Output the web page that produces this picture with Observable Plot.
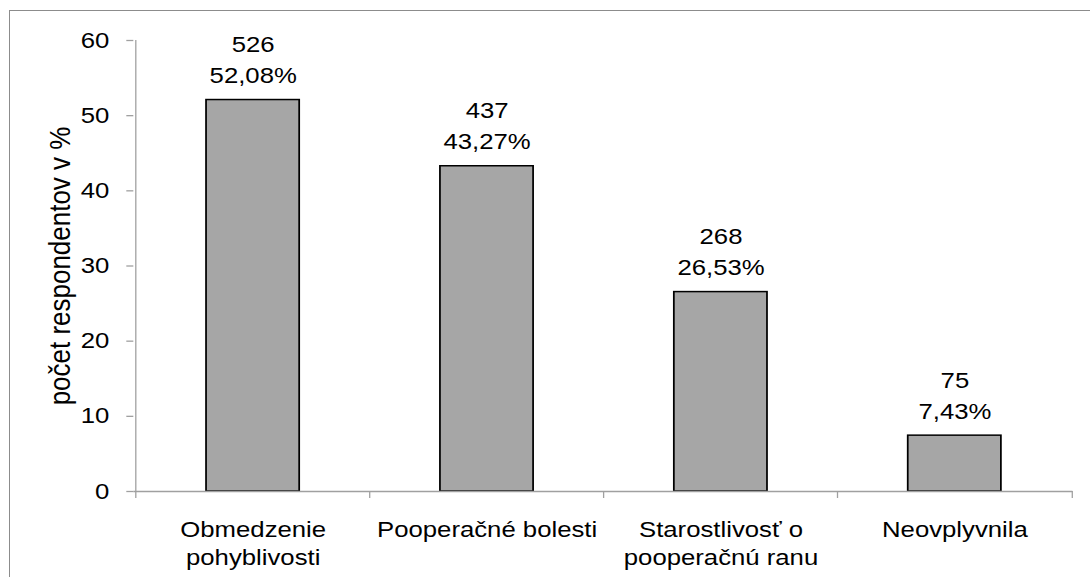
<!DOCTYPE html>
<html><head><meta charset="utf-8">
<script src="https://cdn.jsdelivr.net/npm/d3@7"></script>
<script src="https://cdn.jsdelivr.net/npm/@observablehq/plot@0.6"></script>
<style>
html,body{margin:0;padding:0;background:#fff;overflow:hidden}
#wrap{position:relative;width:1090px;height:577px;overflow:hidden;background:#fff}
#chart{position:absolute;left:0;top:0;transform-origin:0 0;transform:scaleX(1.1695)}
#chart svg{display:block}
#border{position:absolute;left:9px;top:10px;width:1200px;height:700px;border-left:1.5px solid #8c8c8c;border-top:1.5px solid #8c8c8c}
</style></head><body>
<div id="wrap"><div id="border"></div><div id="chart"></div></div>
<script>
const categories = ["Obmedzenie pohyblivosti", "Pooperačné bolesti", "Starostlivosť o pooperačnú ranu", "Neovplyvnila"];
const tickLabels = ["Obmedzenie\npohyblivosti", "Pooperačné bolesti", "Starostlivosť o\npooperačnú ranu", "Neovplyvnila"];
const counts = [526, 437, 268, 75];
const percents = [52.08, 43.27, 26.53, 7.43];
const yTicks = [0, 10, 20, 30, 40, 50, 60];
const yLabel = "počet respondentov v %";

const data = categories.map((c, i) => ({cat: c, pct: percents[i], n: counts[i]}));
const fmtPct = v => v.toFixed(2).replace(".", ",") + "%";

const stretch = 1.1695;
const width = 932, height = 577;
const mL = 114, mR = 15, mT = 40, mB = 86;
const step = (width - mL - mR) / categories.length;
const half = step / 2;
const barW = 80.4;
const inset = (step - barW) / 2;
const axisColor = "#a0a0a0";
const font = "'Liberation Sans', Arial, sans-serif";

const chart = Plot.plot({
  width, height,
  marginLeft: mL, marginRight: mR, marginTop: mT, marginBottom: mB,
  style: {fontFamily: font, background: "transparent", color: "#000"},
  x: {domain: categories, padding: 0, axis: null},
  y: {domain: [0, 60], axis: null},
  marks: [
    Plot.barY(data, {x: "cat", y: "pct", fill: "#a6a6a6", stroke: "#000", strokeWidth: 1.5, insetLeft: inset, insetRight: inset}),
    Plot.ruleY([0], {stroke: axisColor, strokeWidth: 1.3}),
    Plot.ruleX([categories[0]], {x: d => d, dx: -half, y1: 0, y2: 60, stroke: axisColor, strokeWidth: 1.1}),
    Plot.ruleX(categories, {x: d => d, dx: -half, y1: 0, y2: 0, insetBottom: -7, stroke: axisColor, strokeWidth: 1.1}),
    Plot.ruleX([categories[categories.length - 1]], {x: d => d, dx: half, y1: 0, y2: 0, insetBottom: -7, stroke: axisColor, strokeWidth: 1.1}),
    Plot.axisY({ticks: yTicks, tickSize: 6, tickPadding: 15, stroke: axisColor, strokeWidth: 1.3, fill: "#000", fontSize: 22, label: null}),
    Plot.axisX({tickSize: 0, tickPadding: 26, tickFormat: d => tickLabels[categories.indexOf(d)], fill: "#000", fontSize: 22, lineHeight: 1.26, label: null}),
    Plot.text(data, {x: "cat", y: "pct", text: d => `${d.n}\n${fmtPct(d.pct)}`, lineAnchor: "bottom", dy: -17, fontSize: 22, lineHeight: 1.4, fill: "#000"}),
    Plot.text([yLabel], {text: d => d, frameAnchor: "left", textAnchor: "middle", lineAnchor: "middle", rotate: -90, dx: -63, fontSize: 26, fill: "#000", ariaLabel: "y-title"})
  ]
});
// undo the horizontal stretch on the rotated title's glyph thickness
chart.querySelectorAll('g[aria-label="y-title"] text').forEach(t => {
  const tr = t.getAttribute("transform") || "";
  t.setAttribute("transform", tr + ` scale(1, ${1 / stretch})`);
});
document.getElementById("chart").appendChild(chart);
</script>
</body></html>
